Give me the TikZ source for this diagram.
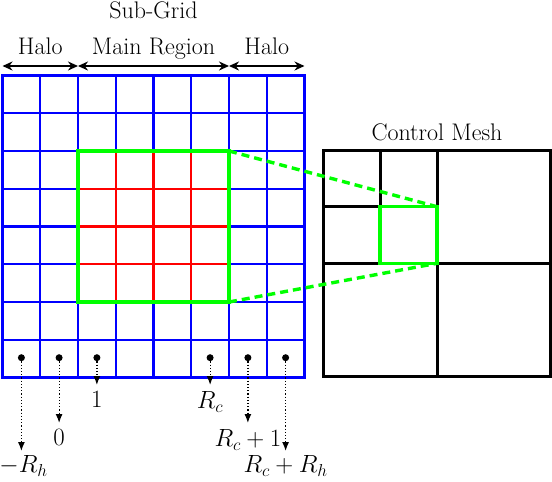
\documentclass[tikz,border=0pt]{standalone}
\usetikzlibrary{arrows.meta}
\begin{document}
\begin{tikzpicture}[x=1pt,y=-1pt,
  font=\fontsize{24}{28}\selectfont,
  gridline/.style={draw=blue, line width=2.3pt},
  redline/.style={draw=red, line width=2.3pt},
  greenbox/.style={draw=green, line width=3.4pt},
  greendash/.style={draw=green, line width=3.4pt, dash pattern=on 8pt off 5pt},
  meshline/.style={draw=black, line width=3pt},
  spanarrow/.style={line width=2.5pt, {Stealth[length=10pt,width=9pt]}-{Stealth[length=10pt,width=9pt]}},
  dotnode/.style={circle, fill=black, inner sep=0pt, minimum size=7pt},
  dotarrow/.style={dotted, line width=1.2pt, -{Latex[length=9pt,width=7pt]}},
  lbl/.style={anchor=north, inner sep=6.5pt},
  lowlbl/.style={anchor=north, inner sep=4.5pt}
]
\useasboundingbox (0,0) rectangle (552,482);
% blue sub-grid
\foreach \i in {1,...,7} {
  \draw[gridline] ({2.5+\i*37.75},75.5) -- ({2.5+\i*37.75},377.5);
  \draw[gridline] (2.5,{75.5+\i*37.75}) -- (304.5,{75.5+\i*37.75});
}
\draw[gridline] (2.5,75.5) rectangle (304.5,377.5);
% red main region lines
\foreach \i in {3,4,5} {
  \draw[redline] ({2.5+\i*37.75},151) -- ({2.5+\i*37.75},302);
  \draw[redline] (78,{75.5+\i*37.75}) -- (229,{75.5+\i*37.75});
}
% green main region
\coordinate (gTL) at (78,151);
\coordinate (gTR) at (229,151);
\coordinate (gBR) at (229,302);
\coordinate (gBL) at (78,302);
\draw[greenbox] (gTL) rectangle (gBR);
% control mesh
\coordinate (mTL) at (323.5,150.7);
\coordinate (mBR) at (550.5,376.7);
\draw[meshline] (mTL) rectangle (mBR);
\draw[meshline] (437,150.7) -- (437,376.7);
\draw[meshline] (323.5,263.3) -- (550.5,263.3);
\draw[meshline] (380,150.7) -- (380,263.3);
\draw[meshline] (323.5,206.7) -- (437,206.7);
\coordinate (cTL) at (380,206.7);
\coordinate (cTR) at (437,206.7);
\coordinate (cBR) at (437,263.3);
\draw[greenbox] (cTL) rectangle (cBR);
\draw[greendash] (gTR) -- (cTR);
\draw[greendash] (gBR) -- (cBR);
\node[anchor=base] (cmesh) at (437,140) {Control Mesh};
% top labels and arrows
\node[anchor=base] (subgrid) at (153.5,18) {Sub-Grid};
\node[anchor=base] (haloL) at (40.25,54.5) {Halo};
\node[anchor=base] (mainreg) at (153.5,54) {Main Region};
\node[anchor=base] (haloR) at (266.75,54.5) {Halo};
\coordinate (a0) at (2.5,66);
\coordinate (a1) at (78,66);
\coordinate (a2) at (229,66);
\coordinate (a3) at (304.5,66);
\draw[spanarrow] (a0) -- (a1);
\draw[spanarrow] (a1) -- (a2);
\draw[spanarrow] (a2) -- (a3);
% index dots and labels
\node[dotnode] (d1) at (21.4,357.7) {};
\node[dotnode] (d2) at (59.1,357.7) {};
\node[dotnode] (d3) at (96.9,357.7) {};
\node[dotnode] (d4) at (210.1,357.7) {};
\node[dotnode] (d5) at (247.9,357.7) {};
\node[dotnode] (d6) at (285.6,357.7) {};
\node[lowlbl] (l1) at (23.5,451) {$-R_h$};
\node[lbl] (l2) at (59.1,423) {$0$};
\node[lbl] (l3) at (96.9,385) {$1$};
\node[lbl] (l4) at (210.1,385) {$R_c$};
\node[lbl] (l5) at (247.9,423) {$R_c+1$};
\node[lowlbl] (l6) at (285.6,451) {$R_c+R_h$};
\draw[dotarrow] (d1) -- (d1 |- l1.north);
\foreach \k in {2,...,6} { \draw[dotarrow] (d\k) -- (l\k.north); }
\end{tikzpicture}
\end{document}
